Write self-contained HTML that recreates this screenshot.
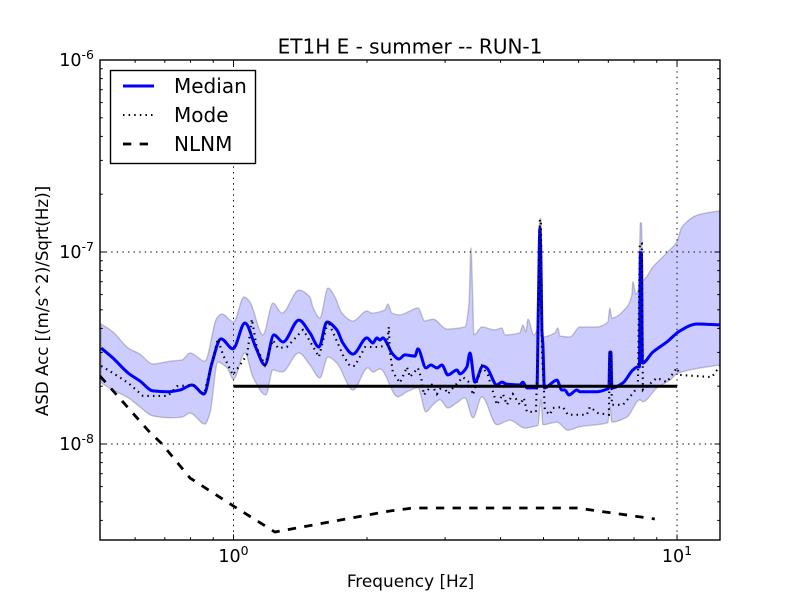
<!DOCTYPE html>
<html>
<head>
<meta charset="utf-8">
<title>ET1H E - summer -- RUN-1</title>
<style>
html,body{margin:0;padding:0;background:#fff;}
svg{display:block;font-family:"DejaVu Sans","Liberation Sans",sans-serif;}
</style>
</head>
<body>
<svg id="chart" width="800" height="600" viewBox="0 0 800 600">
  <defs><clipPath id="plot-clip"><rect x="100" y="60" width="620" height="480"/></clipPath></defs>
  <rect x="0" y="0" width="800" height="600" fill="#fff"/>
  <g id="grid-layer"></g>
  <g id="series-layer" clip-path="url(#plot-clip)"></g>
  <g id="tick-layer"></g>
  <rect x="100" y="60" width="620" height="480" fill="none" stroke="#000" stroke-width="1.4"/>
  <g id="label-layer"></g>
  <text x="410" y="53.5" font-size="20" text-anchor="middle" fill="#000">ET1H E - summer -- RUN-1</text>
  <text x="410.5" y="587" font-size="16.9" text-anchor="middle" fill="#000">Frequency [Hz]</text>
  <text transform="translate(48,301) rotate(-90)" font-size="16.67" text-anchor="middle" fill="#000">ASD Acc [(m/s^2)/Sqrt(Hz)]</text>
  <g>
    <rect x="110.5" y="70.5" width="145" height="93" fill="#fff" stroke="#000" stroke-width="1.4"/>
    <line x1="123" y1="86" x2="154" y2="86" stroke="#0000ff" stroke-width="3"/>
    <text x="174" y="93" font-size="20" fill="#000">Median</text>
    <line x1="123" y1="115" x2="154" y2="115" stroke="#000" stroke-width="2.1" stroke-dasharray="1.5 4.1"/>
    <text x="174" y="122" font-size="20" fill="#000">Mode</text>
    <line x1="123" y1="144" x2="154" y2="144" stroke="#000" stroke-width="2.8" stroke-dasharray="8.33 8.33"/>
    <text x="174" y="151" font-size="20" fill="#000">NLNM</text>
  </g>
</svg>
<script>
// All ASD values are in units of 1e-8 (m/s^2)/Sqrt(Hz); frequencies in Hz.
var medianFreq = [.503,.535,.579,.615,.658,.708,.757,.806,.858,.894,.937,.997,1.061,1.124,1.177,1.233,1.293,1.404,1.487,1.558,1.624,1.710,1.764,1.859,1.999,2.062,2.105,2.138,2.172,2.217,2.275,2.360,2.434,2.565,2.605,2.716,2.786,2.875,2.950,3.043,3.189,3.239,3.359,3.412,3.501,3.650,3.726,3.925,4.028,4.134,4.423,4.492,4.587,4.807,4.832,4.870,4.907,4.933,4.958,4.984,5.023,5.360,5.501,5.586,5.704,5.947,6.039,6.597,6.948,7.020,7.057,7.094,7.130,7.550,7.952,8.160,8.225,8.268,8.311,8.355,8.820,9.486,10.15,11.09,12.5];
var medianAsd = [3.16,2.80,2.34,2.13,1.89,1.87,1.91,2.03,1.82,2.64,3.53,3.13,4.27,3.16,2.58,3.70,3.40,4.42,3.79,3.20,4.32,3.93,3.36,2.94,3.57,3.36,3.57,3.48,3.57,3.36,2.98,2.77,2.91,2.87,3.13,2.49,2.58,2.49,2.58,2.29,2.43,2.32,2.52,2.98,2.10,2.55,2.49,2.03,2.10,2.05,2.03,2.10,1.96,1.96,1.96,5.62,13.3,9.09,3.93,3.28,1.96,2.15,1.91,1.91,1.80,1.91,1.87,1.87,1.93,1.96,3.01,3.01,1.96,2.08,2.43,2.52,2.52,9.9,9.9,2.64,3.01,3.40,3.88,4.22,4.17];

var upperFreq = [.503,.535,.579,.615,.658,.719,.765,.798,.862,.917,.942,1.0,1.056,1.089,1.165,1.227,1.286,1.404,1.487,1.510,1.566,1.633,1.693,1.755,1.859,1.999,2.051,2.194,2.229,2.275,2.372,2.499,2.605,2.70,2.816,3.028,3.324,3.394,3.43,3.466,3.484,3.631,3.884,4.028,4.091,4.423,4.492,4.564,4.611,4.757,4.832,4.907,4.933,4.984,5.303,5.388,5.444,5.734,6.039,6.597,6.984,7.057,7.13,7.71,7.91,7.952,8.078,8.203,8.268,8.311,8.376,8.82,9.486,9.99,10.26,11.14,12.5];
var upperAsd = [4.22,3.83,3.16,2.94,2.61,2.70,2.74,2.98,2.70,4.53,4.76,4.32,5.83,5.49,3.70,5.42,4.81,6.33,5.83,5.17,4.53,6.49,5.83,4.81,4.37,4.93,4.81,4.99,5.36,4.81,4.70,4.93,5.11,4.37,4.47,3.97,4.07,5.31,10.5,5.31,3.70,4.07,3.93,4.02,3.70,3.79,4.17,3.83,4.47,3.70,3.93,14.9,14.9,3.61,3.79,4.02,3.65,3.61,4.07,4.07,4.32,5.11,4.53,5.17,5.97,6.98,6.04,6.57,14.2,14.2,7.14,8.35,9.9,11.3,13.5,15.6,16.4];

var lowerFreq = [.503,.535,.579,.615,.658,.719,.765,.798,.862,.885,.922,.967,1.0,1.061,1.106,1.183,1.227,1.286,1.404,1.487,1.566,1.633,1.710,1.859,2.009,2.062,2.138,2.347,2.46,2.605,2.716,2.816,2.92,3.043,3.189,3.324,3.466,3.631,3.925,4.199,4.54,4.732,4.857,4.933,4.984,5.36,5.674,6.039,6.984,7.057,7.13,7.71,8.246,8.376,9.006,9.635,10.04,12.05,12.5];
var lowerAsd = [2.08,1.91,1.74,1.56,1.40,1.37,1.38,1.45,1.27,1.45,2.67,2.49,2.18,2.98,2.23,1.80,2.43,2.37,2.98,2.58,2.21,2.84,2.64,1.91,2.49,2.37,2.46,1.76,1.87,1.96,1.47,1.60,1.70,1.54,1.64,1.74,1.37,1.76,1.26,1.33,1.21,1.23,1.25,1.70,1.26,1.30,1.18,1.23,1.29,1.56,1.30,1.38,1.70,1.66,1.96,2.15,2.34,2.55,2.58];

var modeFreq = [.503,.535,.579,.625,.712,.746,.811,.858,.922,.947,.997,1.073,1.10,1.129,1.177,1.227,1.26,1.319,1.434,1.45,1.558,1.633,1.737,1.764,1.83,1.878,1.98,2.138,2.217,2.24,2.252,2.287,2.372,2.434,2.46,2.499,2.605,2.65,2.687,2.80,2.875,2.966,3.043,3.123,3.29,3.412,3.466,3.631,3.746,3.925,4.05,4.134,4.265,4.423,4.515,4.587,4.807,4.857,4.907,4.933,4.958,5.036,5.168,5.25,5.53,5.674,6.262,6.361,6.63,7.02,7.057,7.094,7.13,7.55,7.829,8.16,8.246,8.33,8.376,9.006,9.486,9.99,10.15,11.98,12.5];
var modeAsd = [2.55,2.34,2.08,1.78,1.78,2.00,2.03,1.82,3.53,2.91,2.29,2.91,4.47,3.16,2.58,3.48,3.16,3.20,3.93,3.79,2.84,4.37,3.16,2.91,2.55,2.55,3.20,3.20,3.28,4.07,3.01,2.37,2.08,2.37,2.52,2.23,2.49,2.21,1.80,2.03,1.82,2.03,1.82,1.96,2.23,2.08,1.80,2.55,2.29,1.60,1.82,1.60,1.82,1.60,1.74,1.47,1.47,3.09,14.7,14.7,3.09,1.50,1.42,1.54,1.56,1.42,1.42,1.56,1.45,1.42,3.01,3.01,1.60,1.60,1.76,1.98,11.1,11.1,1.91,2.21,2.10,2.49,2.29,2.23,2.55];

var nlnmFreq = [.5,.641,.690,.798,1.0,1.24,2.252,2.54,5.95,8.91];
var nlnmAsd = [2.26,1.18,1.0,.665,.475,.348,.448,.464,.464,.407];

var referenceFreq = [1,10];
var referenceAsd = [2,2];

var xMajorTicks = [1,10];
var xMinorTicks = [.5,.6,.7,.8,.9,2,3,4,5,6,7,8,9];
var yMajorExponents = [-8,-7,-6];
var yMinorMantissas = [2,3,4,5,6,7,8,9];
var xTickLabels = ['0','1'];
var yTickLabels = ['-8','-7','-6'];

var NS = 'http://www.w3.org/2000/svg';
var PLOT = {left:100,right:720,top:60,bottom:540};
var LOG_X_MIN = Math.log10(0.5), LOG_X_MAX = Math.log10(12.5);
var LOG_Y_MIN = -8.5, LOG_Y_MAX = -6;

function xScale(f){
  return PLOT.left + (Math.log10(f) - LOG_X_MIN) / (LOG_X_MAX - LOG_X_MIN) * (PLOT.right - PLOT.left);
}
function yLogScale(l){
  return PLOT.bottom - (l - LOG_Y_MIN) / (LOG_Y_MAX - LOG_Y_MIN) * (PLOT.bottom - PLOT.top);
}
function yScale(v){
  return yLogScale(Math.log10(v) - 8);
}
function pointsOf(freqs, vals){
  return freqs.map(function(f,i){ return xScale(f).toFixed(2) + ',' + yScale(vals[i]).toFixed(2); });
}
// Monotone cubic segments through the data so the curves stay smooth without overshoot.
function smoothSegments(freqs, vals){
  var xs = freqs.map(xScale), ys = vals.map(yScale), n = xs.length, s = [], m = [], i;
  for (i = 0; i < n - 1; i++) s[i] = (ys[i+1] - ys[i]) / (xs[i+1] - xs[i]);
  m[0] = s[0];
  m[n-1] = s[n-2];
  for (i = 1; i < n - 1; i++) {
    m[i] = s[i-1] * s[i] <= 0 ? 0 : 2 * s[i-1] * s[i] / (s[i-1] + s[i]);
  }
  var d = '';
  for (i = 0; i < n - 1; i++) {
    var h = (xs[i+1] - xs[i]) / 3;
    d += 'C' + (xs[i] + h).toFixed(2) + ',' + (ys[i] + m[i] * h).toFixed(2) + ' ' +
         (xs[i+1] - h).toFixed(2) + ',' + (ys[i+1] - m[i+1] * h).toFixed(2) + ' ' +
         xs[i+1].toFixed(2) + ',' + ys[i+1].toFixed(2);
  }
  return {start: xs[0].toFixed(2) + ',' + ys[0].toFixed(2), body: d};
}
function make(tag, parent, attrs){
  var el = document.createElementNS(NS, tag);
  Object.keys(attrs).forEach(function(k){ el.setAttribute(k, attrs[k]); });
  parent.appendChild(el);
  return el;
}

var gridLayer = document.getElementById('grid-layer');
var seriesLayer = document.getElementById('series-layer');
var tickLayer = document.getElementById('tick-layer');
var labelLayer = document.getElementById('label-layer');

// grid
xMajorTicks.forEach(function(f){
  var el = make('line', gridLayer, {x1:xScale(f),x2:xScale(f),y1:PLOT.top,y2:PLOT.bottom,stroke:'#000','stroke-width':1,'stroke-dasharray':'1.4 4.2'});
  
  
});
yMajorExponents.forEach(function(e){
  var el = make('line', gridLayer, {x1:PLOT.left,x2:PLOT.right,y1:yLogScale(e),y2:yLogScale(e),stroke:'#000','stroke-width':1,'stroke-dasharray':'1.4 4.2'});
  
  
});

// band: upper edge left to right, lower edge right to left
var upperSeg = smoothSegments(upperFreq, upperAsd);
var lowerSeg = smoothSegments(lowerFreq.slice().reverse(), lowerAsd.slice().reverse());
var band = make('path', seriesLayer, {d:'M' + upperSeg.start + upperSeg.body + 'L' + lowerSeg.start + lowerSeg.body + 'Z',fill:'#0000ff','fill-opacity':0.2,stroke:'#000','stroke-opacity':0.2,'stroke-width':1.4});



// median
var medianSeg = smoothSegments(medianFreq, medianAsd);
var medianLine = make('path', seriesLayer, {d:'M' + medianSeg.start + medianSeg.body,fill:'none',stroke:'#0000ff','stroke-width':3,'stroke-linejoin':'round'});



// mode
var modeLine = make('polyline', seriesLayer, {points:pointsOf(modeFreq, modeAsd).join(' '),fill:'none',stroke:'#000','stroke-width':2.1,'stroke-dasharray':'1.5 4.1'});



// NLNM
var nlnmLine = make('polyline', seriesLayer, {points:pointsOf(nlnmFreq, nlnmAsd).join(' '),fill:'none',stroke:'#000','stroke-width':2.8,'stroke-dasharray':'8.33 8.33'});



// horizontal reference line
var refLine = make('polyline', seriesLayer, {points:pointsOf(referenceFreq, referenceAsd).join(' '),fill:'none',stroke:'#000','stroke-width':3});



// ticks
function xTick(f, len){
  [[PLOT.bottom, PLOT.bottom - len],[PLOT.top, PLOT.top + len]].forEach(function(p){
    var el = make('line', tickLayer, {x1:xScale(f),x2:xScale(f),y1:p[0],y2:p[1],stroke:'#000','stroke-width':1});
    
    
  });
}
function yTick(l, len){
  [[PLOT.left, PLOT.left + len],[PLOT.right, PLOT.right - len]].forEach(function(p){
    var el = make('line', tickLayer, {x1:p[0],x2:p[1],y1:yLogScale(l),y2:yLogScale(l),stroke:'#000','stroke-width':1});
    
    
  });
}
xMajorTicks.forEach(function(f){ xTick(f, 5.5); });
xMinorTicks.forEach(function(f){ xTick(f, 2.8); });
yMajorExponents.forEach(function(e){ yTick(e, 5.5); });
[-9,-8,-7].forEach(function(e){
  yMinorMantissas.forEach(function(m){
    var l = e + Math.log10(m);
    if (l > LOG_Y_MIN && l < LOG_Y_MAX) yTick(l, 2.8);
  });
});

// tick labels
function powerLabel(x, y, exp, anchor, name){
  var t = make('text', labelLayer, {x:x,y:y,'font-size':17.5,'text-anchor':anchor,fill:'#000'});
  
  
  var base = make('tspan', t, {});
  base.textContent = '10';
  var sup = make('tspan', t, {dy:-7,'font-size':12.5});
  sup.textContent = exp;
}
xMajorTicks.forEach(function(f,i){
  powerLabel(xScale(f), 562, xTickLabels[i], 'middle', 'x-tick-label');
});
yMajorExponents.forEach(function(e,i){
  powerLabel(94, yLogScale(e) + 6, yTickLabels[i], 'end', 'y-tick-label');
});
</script>
</body>
</html>
